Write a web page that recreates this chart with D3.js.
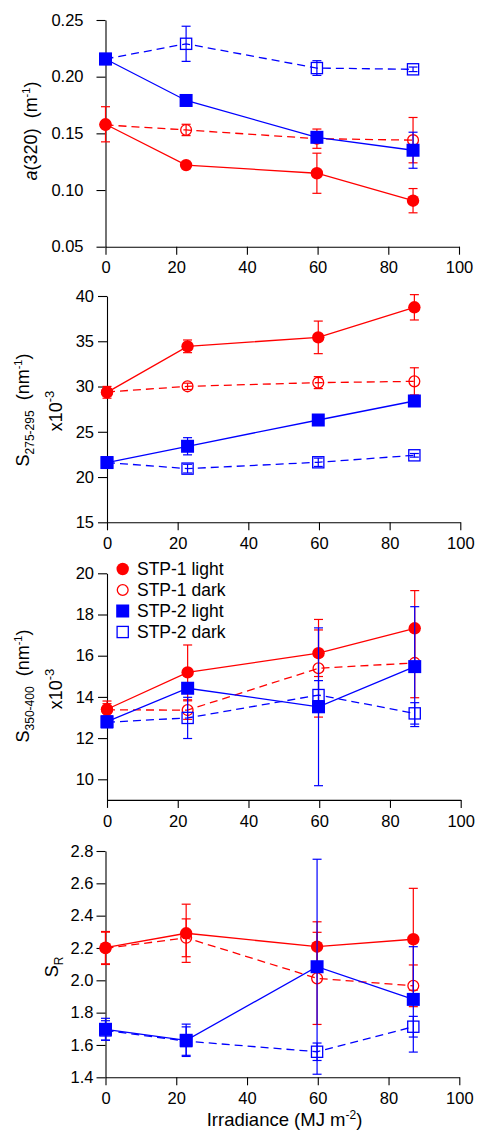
<!DOCTYPE html>
<html>
<head>
<meta charset="utf-8">
<script src="https://cdn.jsdelivr.net/npm/d3@7"></script>
<style>
  body { margin: 0; background: #fff; }
  text { font-family: "Liberation Sans", Arial, Helvetica, sans-serif; }
</style>
</head>
<body>
<div id="chart"></div>
<script>
// irradiance dose (MJ m-2) of each sampling
var irradiance = [0, 22.8, 59.8, 87.0];
var seriesNames = ["STP-1 light", "STP-1 dark", "STP-2 light", "STP-2 dark"];
var xTicks = [0, 20, 40, 60, 80, 100];

// a(320), m-1  (order: STP-1 light, STP-1 dark, STP-2 light, STP-2 dark)
var a320Mean = [
  [0.158, 0.122, 0.1148, 0.0906],
  [0.1574, 0.153, 0.1453, 0.144],
  [0.2156, 0.179, 0.1465, 0.1351],
  [0.2156, 0.229, 0.2076, 0.2065]
];
var a320Err = [
  [0.0155, 0.002, 0.0177, 0.0107],
  [0.002, 0.005, 0.0085, 0.020],
  [0.002, 0.002, 0.003, 0.0159],
  [0.002, 0.0155, 0.0065, 0.002]
];
var a320Ticks = [0.05, 0.10, 0.15, 0.20, 0.25];

// S275-295, x10-3 nm-1
var s275Mean = [
  [29.36, 34.44, 35.43, 38.75],
  [29.4, 30.02, 30.43, 30.57],
  [21.6, 23.4, 26.3, 28.4],
  [21.6, 20.93, 21.63, 22.4]
];
var s275Err = [
  [0.65, 0.7, 1.8, 1.4],
  [0.3, 0.35, 0.66, 1.5],
  [0.2, 0.95, 0.2, 0.2],
  [0.2, 0.48, 0.46, 0.2]
];
var s275Ticks = [15, 20, 25, 30, 35, 40];

// S350-400, x10-3 nm-1
var s350Mean = [
  [13.4, 15.19, 16.12, 17.33],
  [13.37, 13.36, 15.39, 15.65],
  [12.8, 14.42, 13.52, 15.47],
  [12.77, 12.98, 14.09, 13.2]
];
var s350Err = [
  [0.4, 1.33, 1.13, 1.83],
  [0.3, 0.45, 2.37, 1.69],
  [0.2, 0.2, 3.83, 2.91],
  [0.2, 1.0, 0.7, 0.52]
];
var s350Ticks = [10, 12, 14, 16, 18, 20];

// slope ratio SR
var srMean = [
  [2.202, 2.291, 2.208, 2.254],
  [2.198, 2.263, 2.012, 1.966],
  [1.697, 1.629, 2.084, 1.882],
  [1.69, 1.624, 1.558, 1.713]
];
var srErr = [
  [0.1, 0.18, 0.154, 0.315],
  [0.1, 0.117, 0.285, 0.129],
  [0.068, 0.1, 0.665, 0.326],
  [0.06, 0.088, 0.054, 0.064]
];
var srTicks = [1.4, 1.6, 1.8, 2.0, 2.2, 2.4, 2.6, 2.8];

var colors = ["#ff0000", "#ff0000", "#0000ff", "#0000ff"],
    filled = [true, false, true, false],
    shapes = ["circle", "circle", "square", "square"];

var W = 478, H = 1130;

var svg = d3.select("#chart").append("svg")
    .attr("width", W)
    .attr("height", H);

// panel placement (pixels)
var panels = [
  {mean: a320Mean, err: a320Err, ticks: a320Ticks, domain: [0.05, 0.25], fmt: d3.format(".2f"),
   yTop: 20, yBot: 246.7, left: 105.5, right: 459, pad: 13},
  {mean: s275Mean, err: s275Err, ticks: s275Ticks, domain: [15, 40], fmt: d3.format("d"),
   yTop: 296, yBot: 522.3, left: 107, right: 460.3, pad: 4},
  {mean: s350Mean, err: s350Err, ticks: s350Ticks, domain: [9, 20], fmt: d3.format("d"),
   yTop: 573.3, yBot: 799.9, left: 107, right: 460.7, pad: 4},
  {mean: srMean, err: srErr, ticks: srTicks, domain: [1.4, 2.8], fmt: d3.format(".1f"),
   yTop: 851, yBot: 1077.3, left: 105.5, right: 459.3, pad: 3}
];

panels.forEach(function(p) {
  var x = d3.scaleLinear().domain([0, 100]).range([p.left, p.right]);
  var y = d3.scaleLinear().domain(p.domain).range([p.yBot, p.yTop]);
  p.x = x; p.y = y;

  var g = svg.append("g");

  // axes
  var ya = g.append("g")
      .attr("transform", "translate(" + p.left + ",0)")
      .call(d3.axisLeft(y).tickValues(p.ticks).tickFormat(p.fmt)
        .tickSize(9).tickSizeOuter(0).tickPadding(p.pad));
  var xa = g.append("g")
      .attr("transform", "translate(0," + p.yBot + ")")
      .call(d3.axisBottom(x).tickValues(xTicks).tickSize(8).tickSizeOuter(0).tickPadding(7));
  [ya, xa].forEach(function(a) {
    a.attr("font-size", null).attr("font-family", null);
    a.selectAll("text").style("font-size", "16.5px").attr("fill", "#000");
    a.selectAll("line, path").attr("stroke", "#000").attr("stroke-width", 1.1);
  });

  var line = d3.line()
      .x(function(d, i) { return x(irradiance[i]); })
      .y(function(d) { return y(d); });

  p.mean.forEach(function(vals, s) {
    var c = colors[s];
    var sg = g.append("g");

    sg.append("path")
        .attr("d", line(vals))
        .attr("fill", "none")
        .attr("stroke", c)
        .attr("stroke-width", 1.3)
        .attr("stroke-dasharray", filled[s] ? null : "8,5");

    // error bars
    vals.forEach(function(v, i) {
      var e = p.err[s][i], cx = x(irradiance[i]);
      var y0 = y(v - e), y1 = y(v + e);
      sg.append("line").attr("x1", cx).attr("x2", cx).attr("y1", y0).attr("y2", y1)
          .attr("stroke", c).attr("stroke-width", 1.2);
      [y0, y1].forEach(function(yy) {
        sg.append("line").attr("x1", cx - 4.5).attr("x2", cx + 4.5).attr("y1", yy).attr("y2", yy)
            .attr("stroke", c).attr("stroke-width", 1.2);
      });
    });

    vals.forEach(function(v, i) {
      drawMarker(sg, s, x(irradiance[i]), y(v));
    });
  });
});

function drawMarker(sel, s, cx, cy) {
  var c = colors[s];
  if (shapes[s] === "circle") {
    var r = filled[s] ? 6.2 : 5.4;
    sel.append("circle").attr("cx", cx).attr("cy", cy).attr("r", r)
        .attr("fill", filled[s] ? c : "none")
        .attr("stroke", c).attr("stroke-width", filled[s] ? 0 : 1.3);
  } else {
    var h = filled[s] ? 6.5 : 5.6;
    sel.append("rect").attr("x", cx - h).attr("y", cy - h)
        .attr("width", 2 * h).attr("height", 2 * h)
        .attr("fill", filled[s] ? c : "none")
        .attr("stroke", c).attr("stroke-width", filled[s] ? 0 : 1.3);
  }
}

// legend in the third panel
var legend = svg.append("g");
seriesNames.forEach(function(name, s) {
  var ly = 569 + s * 21;
  drawMarker(legend, s, 122.7, ly);
  legend.append("text")
      .attr("x", 137).attr("y", ly + 6.3)
      .style("font-size", "17.5px")
      .text(name);
});

// axis titles
function rotLabel(cx, cy) {
  return svg.append("text")
      .attr("transform", "translate(" + cx + "," + cy + ") rotate(-90)")
      .attr("text-anchor", "middle")
      .style("font-size", "18px");
}

var t1 = rotLabel(37, 131);
t1.append("tspan").style("font-style", "italic").text("a");
t1.append("tspan").text("(320)\u00a0\u00a0(m");
t1.append("tspan").attr("dy", -7).style("font-size", "11px").text("-1");
t1.append("tspan").attr("dy", 7).text(")");

function slopeLabel(cx, cy, sub) {
  var t = rotLabel(cx, cy);
  t.append("tspan").text("S");
  t.append("tspan").attr("dy", 5).style("font-size", "12px").text(sub);
  t.append("tspan").attr("dy", -5).text("\u00a0\u00a0(nm");
  t.append("tspan").attr("dy", -7).style("font-size", "11px").text("-1");
  t.append("tspan").attr("dy", 7).text(")");
}
function scaleLabel(cx, cy) {
  var t = rotLabel(cx, cy);
  t.append("tspan").text("x10");
  t.append("tspan").attr("dy", -8).style("font-size", "13px").text("-3");
}

slopeLabel(29, 410, "275-295");
scaleLabel(62, 411);
slopeLabel(29, 686, "350-400");
scaleLabel(62, 689);

var t4 = rotLabel(58, 967);
t4.append("tspan").text("S");
t4.append("tspan").attr("dy", 5).style("font-size", "12px").text("R");

var xt = svg.append("text")
    .attr("x", 284.5).attr("y", 1126)
    .attr("text-anchor", "middle")
    .style("font-size", "18.5px");
xt.append("tspan").text("Irradiance (MJ m");
xt.append("tspan").attr("dy", -7).style("font-size", "12px").text("-2");
xt.append("tspan").attr("dy", 7).text(")");
</script>
</body>
</html>
